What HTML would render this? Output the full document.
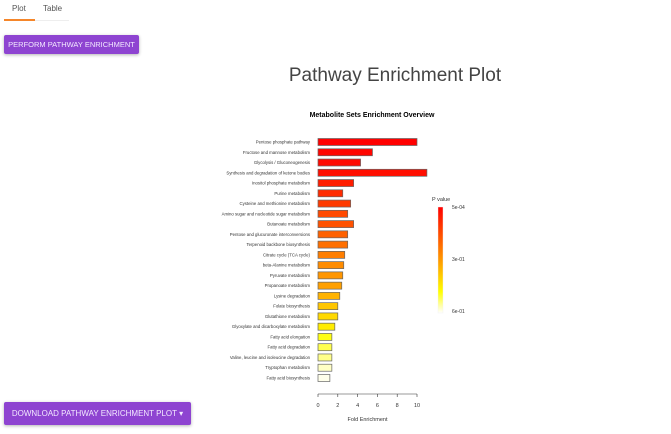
<!DOCTYPE html>
<html><head><meta charset="utf-8"><style>
body{margin:0;width:671px;height:434px;background:#fff;font-family:"Liberation Sans",sans-serif;position:relative;overflow:hidden}
.tab{position:absolute;top:4px;font-size:8px;color:#555}
.btn{position:absolute;background:#8e44d1;color:#f3e9ff;font-size:7.5px;white-space:nowrap;display:flex;align-items:center;justify-content:center;border-radius:2px;box-shadow:0 1px 3px rgba(0,0,0,.3)}
</style></head><body>
<div class="tab" style="left:12px">Plot</div>
<div class="tab" style="left:43px">Table</div>
<div style="position:absolute;left:4px;top:19px;width:31px;height:2px;background:#f5862a"></div>
<div style="position:absolute;left:35px;top:20px;width:34px;height:1px;background:#eee"></div>
<div class="btn" style="left:4px;top:35px;width:135px;height:19px">PERFORM PATHWAY ENRICHMENT</div>
<div class="btn" style="left:4px;top:402px;width:187px;height:23px;font-size:8px">DOWNLOAD PATHWAY ENRICHMENT PLOT ▾</div>
<div style="position:absolute;left:240px;top:65px;width:310px;text-align:center;font-size:19px;color:#444">Pathway Enrichment Plot</div>
<svg id="chart" width="671" height="434" style="position:absolute;left:0;top:0">
<defs><linearGradient id="lg" x1="0" y1="0" x2="0" y2="1"><stop offset="0" stop-color="#ff0000"/><stop offset="0.5" stop-color="#ff9900"/><stop offset="0.8" stop-color="#ffff00"/><stop offset="1" stop-color="#ffffff"/></linearGradient></defs>
</svg>
<script>
const pathways=["Pentose phosphate pathway","Fructose and mannose metabolism","Glycolysis / Gluconeogenesis","Synthesis and degradation of ketone bodies","Inositol phosphate metabolism","Purine metabolism","Cysteine and methionine metabolism","Amino sugar and nucleotide sugar metabolism","Butanoate metabolism","Pentose and glucuronate interconversions","Terpenoid backbone biosynthesis","Citrate cycle (TCA cycle)","beta-Alanine metabolism","Pyruvate metabolism","Propanoate metabolism","Lysine degradation","Folate biosynthesis","Glutathione metabolism","Glyoxylate and dicarboxylate metabolism","Fatty acid elongation","Fatty acid degradation","Valine, leucine and isoleucine degradation","Tryptophan metabolism","Fatty acid biosynthesis"];
const foldEnrichment=[10.0,5.5,4.3,11.0,3.6,2.5,3.3,3.0,3.6,3.0,3.0,2.7,2.6,2.5,2.4,2.2,2.0,2.0,1.7,1.4,1.4,1.4,1.4,1.2];
const pValues=[0.0005,0.01,0.02,0.03,0.06,0.09,0.12,0.15,0.17,0.2,0.23,0.26,0.29,0.31,0.33,0.36,0.39,0.42,0.45,0.49,0.52,0.55,0.58,0.6];
const xTicks=[0,2,4,6,8,10];
const legendLabels=["5e-04","3e-01","6e-01"];
const svg=document.getElementById('chart');const NS="http://www.w3.org/2000/svg";
function mk(t,a,txt){const e=document.createElementNS(NS,t);for(const k in a)e.setAttribute(k,a[k]);if(txt!==undefined)e.textContent=txt;svg.appendChild(e);return e;}
const x=v=>318+v*9.9;const y=i=>142+i*10.26;
function col(p){const t=(p-0.0005)/(0.6-0.0005);let r,g,b;
 if(t<0.55){r=255;g=Math.round(160*t/0.55);b=0}else if(t<0.8){r=255;g=Math.round(160+95*(t-0.55)/0.25);b=0}else{r=255;g=255;b=Math.round(235*(t-0.8)/0.2)}return `rgb(${r},${g},${b})`;}
let e=mk('text',{x:372,y:117,'text-anchor':'middle','font-size':7,'font-weight':'bold',fill:'#000'},'Metabolite Sets Enrichment Overview');

pathways.forEach((p,i)=>{
 const l=mk('text',{x:310,y:y(i)+1.5,'text-anchor':'end','font-size':4.3,fill:'#333'},p);
 
 const r=mk('rect',{x:x(0),y:y(i)-3.5,width:x(foldEnrichment[i])-x(0),height:7,fill:col(pValues[i]),stroke:'#666','stroke-width':0.7});
 
});
mk('line',{x1:x(0),x2:x(10),y1:394,y2:394,stroke:'#333','stroke-width':0.6});
xTicks.forEach(t=>{mk('line',{x1:x(t),x2:x(t),y1:394,y2:397,stroke:'#333','stroke-width':0.6});
 const l=mk('text',{x:x(t),y:407,'text-anchor':'middle','font-size':5.5,fill:'#333'},t);
 });
e=mk('text',{x:x(5),y:421,'text-anchor':'middle','font-size':5.5,fill:'#333'},'Fold Enrichment');

e=mk('text',{x:432,y:201,'font-size':5.5,fill:'#333'},'P value');

e=mk('rect',{x:438,y:207,width:5,height:106,fill:'url(#lg)',stroke:'#eee','stroke-width':0.4});

legendLabels.forEach((t,i)=>{const l=mk('text',{x:452,y:209+i*52,'font-size':5,fill:'#333'},t);
 });
</script>
</body></html>
